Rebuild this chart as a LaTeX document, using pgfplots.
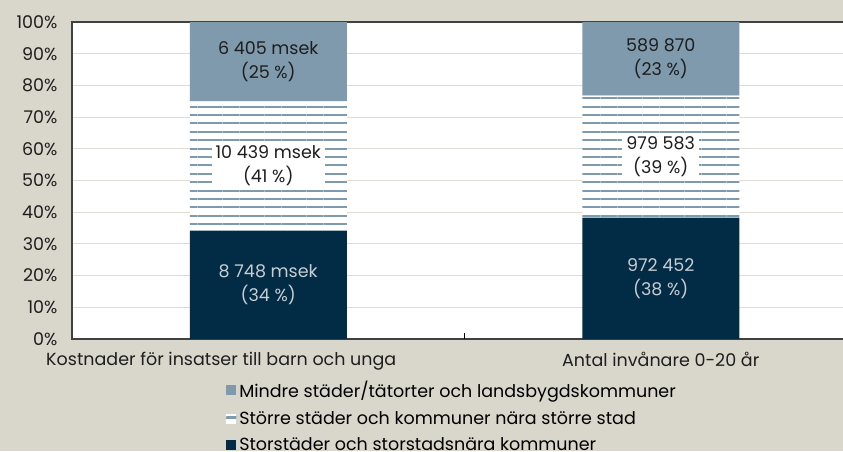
\documentclass[border=0pt]{standalone}
\usepackage{fontspec}
\setmainfont{Poppins}
\usepackage{pgfplots}
\pgfplotsset{compat=1.18}
\usetikzlibrary{patterns.meta}
\definecolor{bgc}{RGB}{217,215,204}
\definecolor{topc}{RGB}{127,154,172}
\definecolor{navy}{RGB}{2,43,69}
\definecolor{gridc}{RGB}{222,220,211}
\definecolor{axisc}{RGB}{64,64,64}
\definecolor{darktext}{RGB}{30,30,30}
\definecolor{lighttext}{RGB}{200,205,210}
\newcommand{\cfont}{\fontsize{17.5}{24}\selectfont}
\begin{document}
\begin{tikzpicture}
\useasboundingbox (0pt,0pt) rectangle (843pt,451pt);
\fill[bgc] (0pt,0pt) rectangle (843pt,451pt);
\clip (0pt,0pt) rectangle (843pt,451pt);
\begin{axis}[
  at={(72pt,112pt)}, anchor=south west, scale only axis,
  width=785pt, height=317pt,
  xmin=-0.5, xmax=1.5, ymin=0, ymax=100,
  ybar stacked, bar width=157pt,
  axis background/.style={fill=white},
  xtick={0,1},
  xticklabels={\hspace*{-94pt}Kostnader för insatser till barn och unga, Antal invånare 0-20 år},
  major tick length=0pt,
  tick pos=left,
  extra x ticks={0.5}, extra x tick labels={},
  extra x tick style={major tick length=6pt, tick align=inside, xtick style={draw=black, line width=1pt}, grid=none},
  ytick={0,10,...,100},
  yticklabel={\pgfmathprintnumber{\tick}\%},
  ymajorgrids, grid style={gridc, line width=1pt},
  axis line style={axisc, line width=1.5pt},
  /pgf/number format/assume math mode=true,
  tick label style={font=\cfont, text=darktext},
  yticklabel style={xshift=-11pt},
  xticklabel style={yshift=-10pt},
  reverse legend,
  legend cell align=left,
  legend style={at={(axis description cs:0.195,-0.13)}, anchor=north west,
    draw=none, fill=none, font=\cfont, row sep=10pt, inner sep=0pt,
    nodes={inner xsep=2pt, inner ysep=1pt}},
]
\addplot[fill=navy, draw=none,
  legend image code/.code={\fill[navy] (0pt,-5pt) rectangle (10pt,5pt);}]
  coordinates {(0,34.2) (1,38.3)};
\addlegendentry{Storstäder och storstadsnära kommuner}
\addplot[fill=white, draw=none,
  postaction={pattern={Lines[angle=0, distance=8.4pt, line width=2pt]}, pattern color=topc},
  legend image code/.code={\fill[white] (0pt,-5pt) rectangle (10pt,5pt); \draw[topc, line width=2pt] (0pt,0.5pt)--(10pt,0.5pt);}]
  coordinates {(0,40.8) (1,38.5)};
\addlegendentry{Större städer och kommuner nära större stad}
\addplot[fill=topc, draw=none,
  legend image code/.code={\fill[topc] (0pt,-5pt) rectangle (10pt,5pt);}]
  coordinates {(0,25.0) (1,23.2)};
\addlegendentry{Mindre städer/tätorter och landsbygdskommuner}
\end{axis}
\begin{axis}[
  at={(72pt,112pt)}, anchor=south west, scale only axis,
  width=785pt, height=317pt,
  xmin=-0.5, xmax=1.5, ymin=0, ymax=100,
  hide axis, clip=false,
  nodes near coords align=center,
]
\addplot[draw=none, mark=none, nodes near coords, point meta=explicit symbolic,
  every node near coord/.append style={anchor=center, align=center, font=\cfont, text=darktext}]
  coordinates {(0,87.5) [{6 405 msek\\(25 \%)}] (1,88.4) [{589 870\\(23 \%)}]};
\addplot[draw=none, mark=none, nodes near coords, point meta=explicit symbolic,
  every node near coord/.append style={anchor=center, align=center, font=\cfont, text=darktext, fill=white, inner xsep=4pt, inner ysep=4pt}]
  coordinates {(0,54.8) [{10 439 msek\\(41 \%)}] (1,57.5) [{979 583\\(39 \%)}]};
\addplot[draw=none, mark=none, nodes near coords, point meta=explicit symbolic,
  every node near coord/.append style={anchor=center, align=center, font=\cfont, text=lighttext}]
  coordinates {(0,17.1) [{8 748 msek\\(34 \%)}] (1,19.1) [{972 452\\(38 \%)}]};
\end{axis}
\end{tikzpicture}
\end{document}
